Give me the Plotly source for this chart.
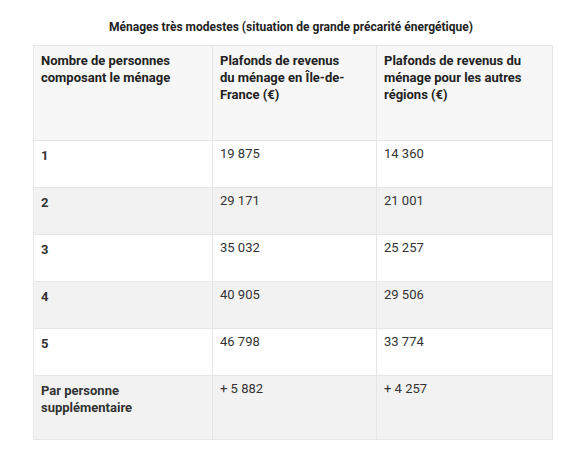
import plotly.graph_objects as go

title = "Ménages très modestes (situation de grande précarité énergétique)"
headers = [
    "Nombre de personnes<br>composant le ménage",
    "Plafonds de revenus<br>du ménage en Île-de-<br>France (€)",
    "Plafonds de revenus du<br>ménage pour les autres<br>régions (€)",
]
persons = ["1", "2", "3", "4", "5", "Par personne<br>supplémentaire<br> "]
idf = ["19 875", "29 171", "35 032", "40 905", "46 798", "+ 5 882"]
others = ["14 360", "21 001", "25 257", "29 506", "33 774", "+ 4 257"]

W, H = 566, 452
row_fill = ["#ffffff", "#f2f2f2"] * 3

# the page adds an 8px body margin, so positions are shifted back by 8px
fig = go.Figure(go.Table(
    domain={"x": [25 / W, 544 / W], "y": [0, 1 - 37 / H]},
    columnwidth=[179, 164, 176],
    header=dict(
        values=["<b>%s</b>" % h for h in headers],
        fill_color="#f7f7f7",
        line=dict(color="#e6e6e6", width=1),
        align="left",
        font=dict(family="Roboto", size=13, color="#222222"),
        height=95,
    ),
    cells=dict(
        values=[["<b>%s</b>" % p for p in persons], idf, others],
        fill_color=[row_fill] * 3,
        line=dict(color="#e6e6e6", width=1),
        align="left",
        font=dict(family="Roboto", size=13, color="#333333"),
        height=47,
    ),
))

fig.update_layout(
    width=W, height=H,
    margin=dict(l=0, r=0, t=0, b=0),
    paper_bgcolor="white",
    annotations=[dict(
        text="<b>%s</b>" % title, x=0.5, y=1 - 19 / H, xref="paper", yref="paper",
        yanchor="middle", showarrow=False,
        font=dict(family="Roboto", size=12, color="#222222"),
    )],
)

fig.write_html("out.html")
